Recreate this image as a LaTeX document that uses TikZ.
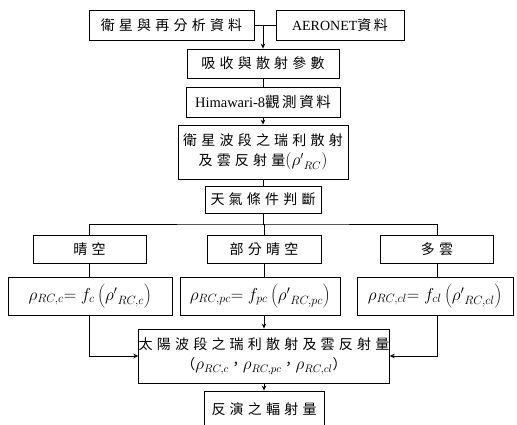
\documentclass[tikz,border=0pt]{standalone}
\usepackage{fontspec}
\setmainfont{Liberation Serif}
\newfontfamily\cjk[LetterSpace=30]{Noto Sans CJK TC}
\newfontfamily\cjknarrow[LetterSpace=18]{Noto Sans CJK TC}
\usetikzlibrary{arrows.meta}
\newcommand{\mymath}[1]{{\fontsize{16}{20}\selectfont$#1$}}
\begin{document}
\begin{tikzpicture}[x=1pt,y=-1pt,
  box/.style={draw,line width=0.8pt,inner sep=0pt,align=center,font=\fontsize{14}{20}\selectfont},
  fbox/.style={box,minimum height=38pt,font=\fontsize{18.5}{20}\selectfont},
  ln/.style={line width=0.8pt},
  arr/.style={ln,-{Stealth[length=5pt,width=4.5pt]}}]
\useasboundingbox (0,0) rectangle (517,425);
\node[box,minimum width=165pt,minimum height=30pt] (sat) at (171.5,25) {\cjk 衛星與再分析資料};
\node[box,minimum width=128pt,minimum height=30pt] (aer) at (340,25) {AERONET{\cjknarrow 資料}};
\node[box,minimum width=152pt,minimum height=29pt] (abs) at (263,63.5) {\cjk 吸收與散射參數};
\node[box,minimum width=154pt,minimum height=30pt] (him) at (263,102) {\fontsize{14.5}{20}\selectfont Himawari-8{\cjknarrow 觀測資料}};
\node[box,minimum width=170pt,minimum height=54pt] (ray) at (263,152) {{\cjk 衛星波段之瑞利散射}\\{\cjk 及雲反射量}\mymath{({\rho'}_{RC})}};
\node[box,minimum width=116pt,minimum height=27pt] (wea) at (263,199.5) {\cjk 天氣條件判斷};
\node[box,minimum width=113pt,minimum height=28pt] (clr) at (89.5,249) {\cjk 晴空};
\node[box,minimum width=114pt,minimum height=28pt] (pcl) at (264,249) {\cjk 部分晴空};
\node[box,minimum width=113pt,minimum height=28pt] (cld) at (437,249) {\cjk 多雲};
\node[fbox,minimum width=164pt] (fc) at (90,296) {$\rho_{RC,c}{=}\ f_{c}\left({\rho'}_{RC,c}\right)$};
\node[fbox,minimum width=160pt] (fpc) at (260,296) {$\rho_{RC,pc}{=}\ f_{pc}\left({\rho'}_{RC,pc}\right)$};
\node[fbox,minimum width=156pt] (fcl) at (435,296) {$\rho_{RC,cl}{=}\ f_{cl}\left({\rho'}_{RC,cl}\right)$};
\node[box,minimum width=250pt,minimum height=54pt] (sol) at (264,356) {{\cjk 太陽波段之瑞利散射及雲反射量}\\{\cjk （}\mymath{\rho_{RC,c}}{\cjk ，}\mymath{\rho_{RC,pc}}{\cjk ，}\mymath{\rho_{RC,cl}}{\cjk ）}};
\node[box,minimum width=120pt,minimum height=36pt] (ret) at (264,409) {\cjk 反演之輻射量};
% connectors
\coordinate (j) at (263,25);
\draw[ln] (sat.east) -- (aer.west);
\draw[arr] (j) -- (j |- abs.north);
\draw[ln] (abs.south) -- (him.north);
\draw[arr] (him.south) -- (ray.north);
\draw[ln] (ray.south) -- (wea.north);
\coordinate (h) at (263,224);
\draw[ln] (wea.south) -- (h);
\draw[ln] (clr.north) |- (h) -| (cld.north);
\draw[ln] (h) -| (pcl.north);
\draw[ln] (clr.south) -- (clr.south |- fc.north);
\draw[ln] (pcl.south) -- (pcl.south |- fpc.north);
\draw[ln] (cld.south) -- (cld.south |- fcl.north);
\draw[arr] (clr.south |- fc.south) |- (sol.west);
\draw[arr] (pcl.south |- fpc.south) -- (sol.north);
\draw[arr] (cld.south |- fcl.south) |- (sol.east);
\draw[arr] (sol.south) -- (ret.north);
\end{tikzpicture}
\end{document}
